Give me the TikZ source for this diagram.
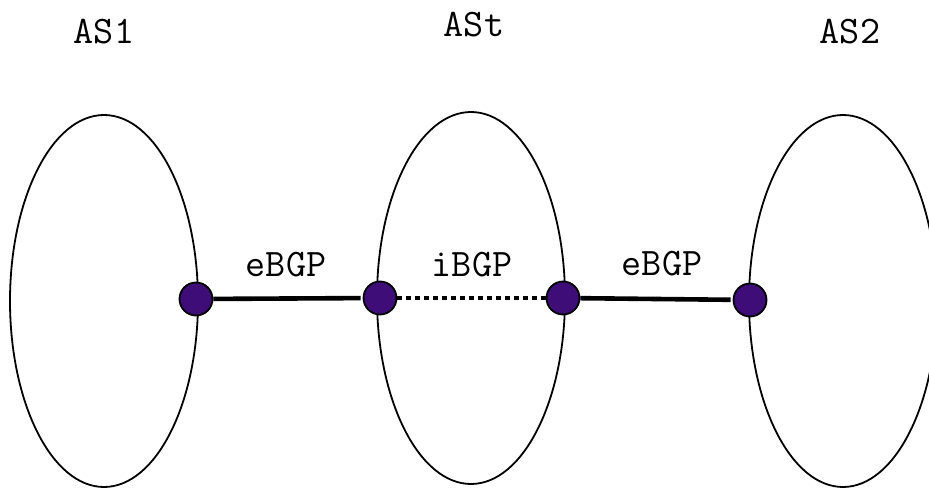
\documentclass[tikz,border=0pt]{standalone}
\usetikzlibrary{shapes.geometric}
\definecolor{routerfill}{RGB}{62,13,120}
\begin{document}
\begin{tikzpicture}[x=1pt,y=-1pt,
  asbox/.style={draw=black,line width=1.8pt,ellipse,minimum width=188pt,minimum height=372pt,inner sep=0pt},
  router/.style={circle,draw=black,line width=1.8pt,fill=routerfill,minimum size=33pt,inner sep=0pt},
  label/.style={font=\ttfamily\fontsize{39}{39}\selectfont,inner sep=0pt},
  ebgp/.style={line width=4.6pt,shorten >=2pt},
  ibgp/.style={line width=4.6pt,dash pattern=on 4.5pt off 4.5pt}]
  \useasboundingbox (0,0) rectangle (929,492);
  % autonomous systems
  \node[asbox] (as1) at (104,301) {};
  \node[asbox] (ast) at (471,298) {};
  \node[asbox] (as2) at (843,301) {};
  % AS names
  \node[label] (n1) at (104,32) {AS1};
  \node[label] (nt) at (474,25) {ASt};
  \node[label] (n2) at (850,32) {AS2};
  % border routers
  \node[router] (r1) at (196,299) {};
  \node[router] (r2) at (380,298) {};
  \node[router] (r3) at (563,298) {};
  \node[router] (r4) at (750,300) {};
  % sessions
  \draw[ebgp] (r1) -- (r2);
  \draw[ibgp] (r2) -- (r3);
  \draw[ebgp] (r3) -- (r4);
  \node[label] (l1) at (286,265) {eBGP};
  \node[label] (l2) at (472,265) {iBGP};
  \node[label] (l3) at (662,264) {eBGP};
\end{tikzpicture}
\end{document}
